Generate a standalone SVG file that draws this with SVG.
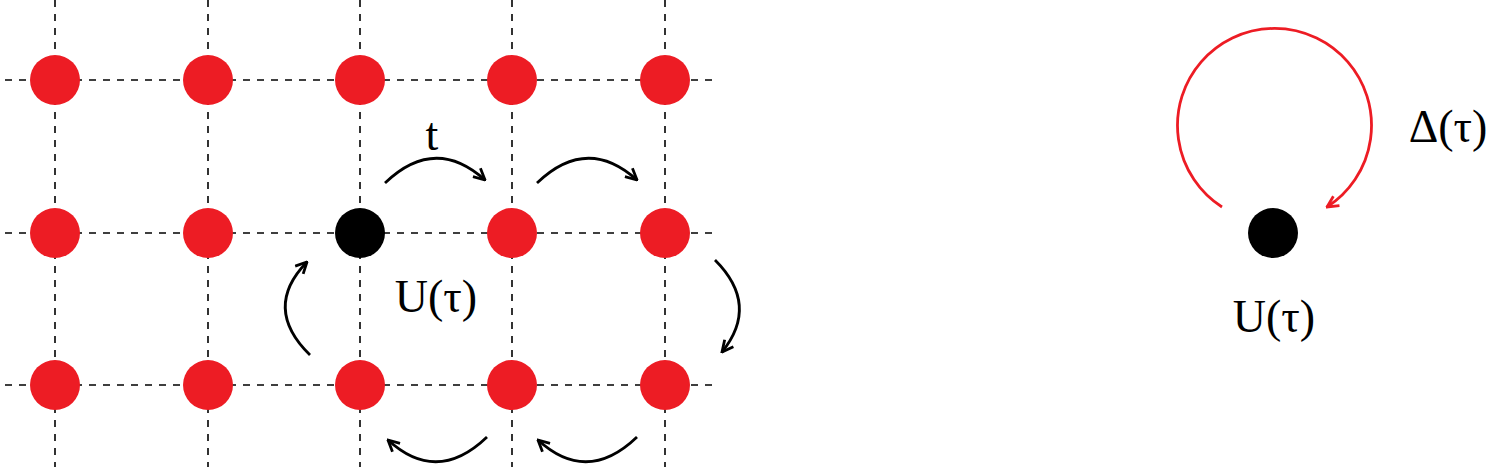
<svg xmlns="http://www.w3.org/2000/svg" width="1504" height="467" viewBox="0 0 1504 467">
<style>
.g{stroke:#000;stroke-width:1.6;stroke-dasharray:7,7;fill:none}
.r{fill:#ed1c24}
.a{stroke:#000;stroke-width:2.8;fill:none}
.t{font-family:"Liberation Serif",serif;font-size:46px;fill:#000}
</style>
<defs>
<marker id="ah" viewBox="0 0 10 10" refX="9" refY="5" markerWidth="5" markerHeight="5" orient="auto" markerUnits="strokeWidth">
<path d="M1,1 L9,5 L1,9" fill="none" stroke="context-stroke" stroke-width="2"/>
</marker>
</defs>
<g id="grid">
<path class="g" d="M55,0V467M208,0V467M360,0V467M512,0V467M665,0V467M5,80H715M5,233H715M5,385H715"/>
</g>
<g id="nodes">
<circle class="r" cx="55" cy="80" r="25"/><circle class="r" cx="208" cy="80" r="25"/><circle class="r" cx="360" cy="80" r="25"/><circle class="r" cx="512" cy="80" r="25"/><circle class="r" cx="665" cy="80" r="25"/>
<circle class="r" cx="55" cy="233" r="25"/><circle class="r" cx="208" cy="233" r="25"/><circle id="center" cx="360" cy="233" r="25" fill="#000"/><circle class="r" cx="512" cy="233" r="25"/><circle class="r" cx="665" cy="233" r="25"/>
<circle class="r" cx="55" cy="385" r="25"/><circle class="r" cx="208" cy="385" r="25"/><circle class="r" cx="360" cy="385" r="25"/><circle class="r" cx="512" cy="385" r="25"/><circle class="r" cx="665" cy="385" r="25"/>
<circle id="single" cx="1273" cy="233" r="25" fill="#000"/>
</g>
<g id="connectors">
<path class="a" marker-end="url(#ah)" d="M385,183 Q435,135 485,180"/>
<path class="a" marker-end="url(#ah)" d="M537,183 Q587,135 637,180"/>
<path class="a" marker-end="url(#ah)" d="M715,260 Q760,305 722,352"/>
<path class="a" marker-end="url(#ah)" d="M637,437 Q587,485 538,440"/>
<path class="a" marker-end="url(#ah)" d="M487,437 Q437,485 388,440"/>
<path class="a" marker-end="url(#ah)" d="M310,355 Q262,308 307,262"/>
<path fill="none" stroke="#ed1c24" stroke-width="2.8" marker-end="url(#ah)" d="M1222,207 A97,97 0 1 1 1327,207"/>
</g>
<g id="labels">
<text class="t" x="432" y="150" font-size="40" text-anchor="middle">t</text>
<text class="t" x="436" y="312" text-anchor="middle">U(τ)</text>
<text class="t" x="1448" y="142" text-anchor="middle">Δ(τ)</text>
<text class="t" x="1274" y="332" text-anchor="middle">U(τ)</text>
</g>
</svg>
